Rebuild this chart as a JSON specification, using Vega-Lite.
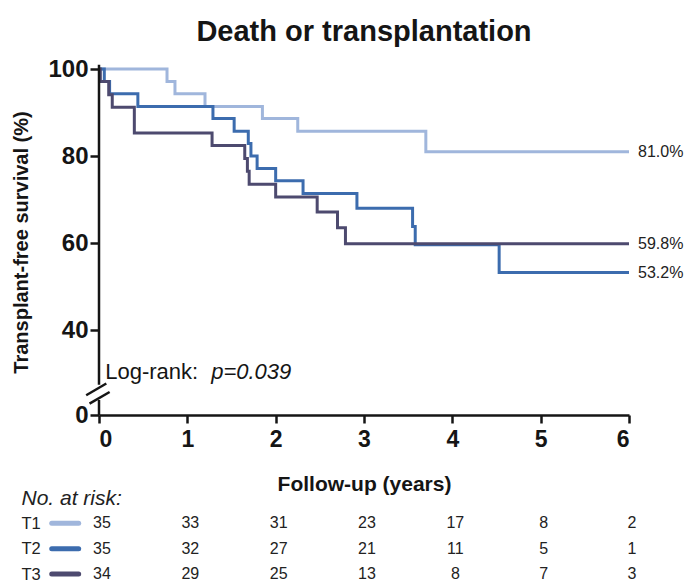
{
  "$schema": "https://vega.github.io/schema/vega-lite/v6.json",
  "padding": {"left": 11, "top": 18, "right": 5, "bottom": 0},
  "background": "white",
  "spacing": -7,
  "config": {
    "font": "Liberation Sans",
    "view": {"stroke": null},
    "axis": {"grid": false}
  },
  "datasets": {
    "km": [
      {"group": "T1", "year": 0, "pct": 100},
      {"group": "T1", "year": 0.77, "pct": 97.1},
      {"group": "T1", "year": 0.86, "pct": 94.3},
      {"group": "T1", "year": 1.2, "pct": 91.4},
      {"group": "T1", "year": 1.85, "pct": 88.6},
      {"group": "T1", "year": 2.25, "pct": 85.7},
      {"group": "T1", "year": 3.7, "pct": 81.0},
      {"group": "T1", "year": 6, "pct": 81.0},
      {"group": "T2", "year": 0, "pct": 100},
      {"group": "T2", "year": 0.06, "pct": 97.1},
      {"group": "T2", "year": 0.12, "pct": 94.3},
      {"group": "T2", "year": 0.44, "pct": 91.4},
      {"group": "T2", "year": 1.29, "pct": 88.6},
      {"group": "T2", "year": 1.53, "pct": 85.7},
      {"group": "T2", "year": 1.69, "pct": 82.9},
      {"group": "T2", "year": 1.72, "pct": 80.0},
      {"group": "T2", "year": 1.79, "pct": 77.1},
      {"group": "T2", "year": 2.0, "pct": 74.3},
      {"group": "T2", "year": 2.31, "pct": 71.4},
      {"group": "T2", "year": 2.92, "pct": 68.0},
      {"group": "T2", "year": 3.55, "pct": 63.8},
      {"group": "T2", "year": 3.58, "pct": 59.6},
      {"group": "T2", "year": 4.53, "pct": 53.2},
      {"group": "T2", "year": 6, "pct": 53.2},
      {"group": "T3", "year": 0, "pct": 100},
      {"group": "T3", "year": 0.015, "pct": 97.1},
      {"group": "T3", "year": 0.11, "pct": 94.1},
      {"group": "T3", "year": 0.15, "pct": 91.2},
      {"group": "T3", "year": 0.4, "pct": 85.3},
      {"group": "T3", "year": 1.28, "pct": 82.4},
      {"group": "T3", "year": 1.65, "pct": 79.4},
      {"group": "T3", "year": 1.68, "pct": 76.5},
      {"group": "T3", "year": 1.7, "pct": 73.5},
      {"group": "T3", "year": 2.0, "pct": 70.6},
      {"group": "T3", "year": 2.47, "pct": 67.1},
      {"group": "T3", "year": 2.7, "pct": 63.5},
      {"group": "T3", "year": 2.79, "pct": 59.8},
      {"group": "T3", "year": 6, "pct": 59.8}
    ],
    "risk": [
      {"group": "T1", "year": 0, "n": 35}, {"group": "T1", "year": 1, "n": 33}, {"group": "T1", "year": 2, "n": 31},
      {"group": "T1", "year": 3, "n": 23}, {"group": "T1", "year": 4, "n": 17}, {"group": "T1", "year": 5, "n": 8},
      {"group": "T1", "year": 6, "n": 2},
      {"group": "T2", "year": 0, "n": 35}, {"group": "T2", "year": 1, "n": 32}, {"group": "T2", "year": 2, "n": 27},
      {"group": "T2", "year": 3, "n": 21}, {"group": "T2", "year": 4, "n": 11}, {"group": "T2", "year": 5, "n": 5},
      {"group": "T2", "year": 6, "n": 1},
      {"group": "T3", "year": 0, "n": 34}, {"group": "T3", "year": 1, "n": 29}, {"group": "T3", "year": 2, "n": 25},
      {"group": "T3", "year": 3, "n": 13}, {"group": "T3", "year": 4, "n": 8}, {"group": "T3", "year": 5, "n": 7},
      {"group": "T3", "year": 6, "n": 3}
    ]
  },
  "vconcat": [
    {
      "width": 530,
      "height": 346,
      "title": {
        "text": "Death or transplantation",
        "fontSize": 29,
        "fontWeight": "bold",
        "color": "#151515",
        "anchor": "middle",
        "frame": "group",
        "offset": 10
      },
      "encoding": {
        "x": {
          "type": "quantitative",
          "scale": {"domain": [0, 6], "nice": false},
          "axis": {
            "title": "Follow-up (years)",
            "values": [0, 1, 2, 3, 4, 5, 6],
            "format": "d",
            "labelFontSize": 23,
            "labelFontWeight": "bold",
            "labelColor": "#151515",
            "labelPadding": 5,
            "tickSize": 8,
            "tickWidth": 2.5,
            "tickColor": "#151515",
            "domainColor": "#151515",
            "domainWidth": 2.5,
            "titleFontSize": 21,
            "titleFontWeight": "bold",
            "titleColor": "#151515",
            "titlePadding": 22
          }
        },
        "y": {
          "type": "quantitative",
          "scale": {"domain": [0, 26, 100], "range": [346, 321.9, 0], "nice": false, "zero": false},
          "axis": {
            "title": "Transplant-free survival (%)",
            "values": [0, 40, 60, 80, 100],
            "labelFontSize": 24,
            "labelFontWeight": "bold",
            "labelColor": "#151515",
            "labelPadding": 2,
            "tickSize": 9,
            "tickWidth": 2.5,
            "tickColor": "#151515",
            "domain": false,
            "titleFontSize": 20,
            "titleFontWeight": "bold",
            "titleColor": "#151515",
            "titlePadding": 16
          }
        }
      },
      "layer": [
        {
          "data": {"name": "km"},
          "mark": {"type": "line", "interpolate": "step-after", "strokeWidth": 3},
          "encoding": {
            "x": {"field": "year", "type": "quantitative"},
            "y": {"field": "pct", "type": "quantitative"},
            "color": {
              "field": "group",
              "type": "nominal",
              "scale": {"domain": ["T1", "T2", "T3"], "range": ["#a0b6dc", "#3c6cae", "#4d4a6f"]},
              "legend": null
            },
            "order": {"field": "group"}
          }
        },
        {
          "data": {"name": "km"},
          "transform": [
            {"filter": "datum.year == 6"},
            {"calculate": "format(datum.pct, '.1f') + '%'", "as": "label"}
          ],
          "mark": {"type": "text", "align": "left", "baseline": "middle", "dx": 9, "fontSize": 16, "color": "#222222"},
          "encoding": {
            "x": {"field": "year", "type": "quantitative"},
            "y": {"field": "pct", "type": "quantitative"},
            "text": {"field": "label"}
          }
        },
        {
          "data": {"values": [{}]},
          "mark": {"type": "text", "align": "left", "baseline": "middle", "fontSize": 22, "color": "#151515", "text": "Log-rank: "},
          "encoding": {"x": {"datum": 0.07}, "y": {"datum": 30.3}}
        },
        {
          "data": {"values": [{}]},
          "mark": {"type": "text", "align": "left", "baseline": "middle", "fontSize": 22, "fontStyle": "italic", "color": "#151515", "text": "p=0.039"},
          "encoding": {"x": {"datum": 1.27}, "y": {"datum": 30.3}}
        },
        {
          "data": {"values": [{}]},
          "mark": {"type": "rule", "strokeWidth": 2.5, "color": "#151515"},
          "encoding": {"x": {"datum": 0}, "y": {"datum": 101}, "y2": {"datum": 27.4}}
        },
        {
          "data": {"values": [{}]},
          "mark": {"type": "rule", "strokeWidth": 2.5, "color": "#151515"},
          "encoding": {"x": {"datum": 0}, "y": {"datum": 0}, "y2": {"datum": 16.2}}
        },
        {
          "data": {"values": [{}]},
          "mark": {"type": "rule", "strokeWidth": 2.5, "color": "#151515"},
          "encoding": {"x": {"datum": -0.145}, "x2": {"datum": 0.083}, "y": {"datum": 21.3}, "y2": {"datum": 27.7}}
        },
        {
          "data": {"values": [{}]},
          "mark": {"type": "rule", "strokeWidth": 2.5, "color": "#151515"},
          "encoding": {"x": {"datum": -0.107}, "x2": {"datum": 0.12}, "y": {"datum": 12.2}, "y2": {"datum": 24.8}}
        }
      ]
    },
    {
      "width": 530,
      "height": 76,
      "data": {"name": "risk"},
      "encoding": {
        "x": {"type": "quantitative", "scale": {"domain": [0, 6], "nice": false}, "axis": null},
        "y": {
          "field": "group",
          "type": "nominal",
          "scale": {"type": "point", "domain": ["No. at risk:", "T1", "T2", "T3"], "padding": 0},
          "axis": {
            "title": null,
            "domain": false,
            "ticks": false,
            "tickSize": 0,
            "labelAlign": "left",
            "labelBaseline": "middle",
            "labelPadding": 78,
            "labelLimit": 300,
            "labelColor": "#222222",
            "labelFontSize": {"condition": {"test": "datum.value == 'No. at risk:'", "value": 21}, "value": 16.5},
            "labelFontStyle": {"condition": {"test": "datum.value == 'No. at risk:'", "value": "italic"}, "value": "normal"}
          }
        }
      },
      "layer": [
        {
          "mark": {"type": "text", "fontSize": 16, "color": "#222222", "dx": 3},
          "encoding": {
            "x": {"field": "year", "type": "quantitative"},
            "text": {"field": "n", "type": "quantitative"}
          }
        },
        {
          "transform": [{"filter": "datum.year == 0"}],
          "mark": {"type": "rule", "strokeWidth": 5, "strokeCap": "round"},
          "encoding": {
            "x": {"datum": -0.535},
            "x2": {"datum": -0.23},
            "color": {
              "field": "group",
              "type": "nominal",
              "scale": {"domain": ["T1", "T2", "T3"], "range": ["#a4b6dc", "#4a75b5", "#4f4a6e"]},
              "legend": null
            }
          }
        }
      ]
    }
  ]
}
